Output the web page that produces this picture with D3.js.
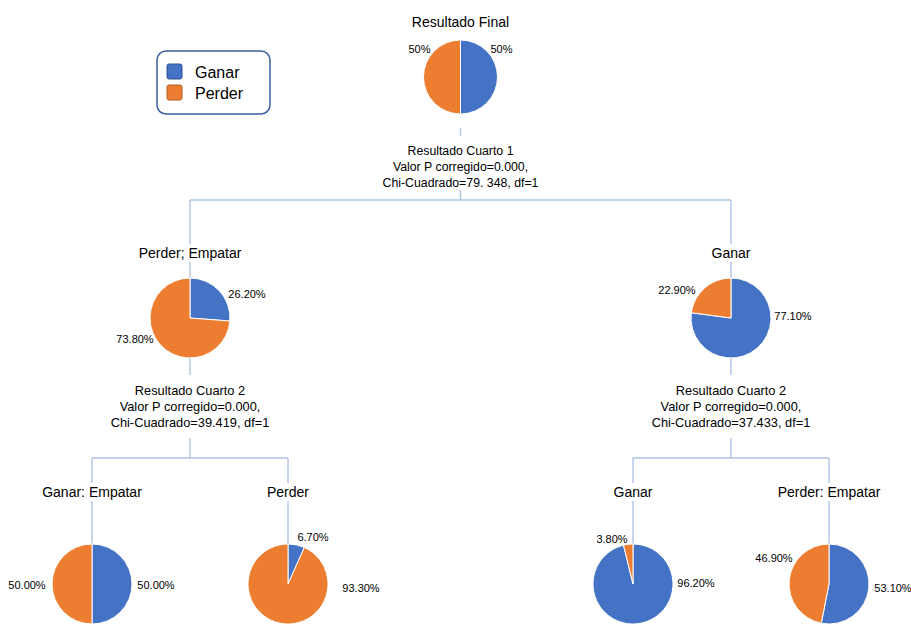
<!DOCTYPE html>
<html><head><meta charset="utf-8">
<script src="https://cdn.jsdelivr.net/npm/d3@7"></script>
<style>
body{margin:0;background:#fff}
svg{display:block;font-family:"Liberation Sans",Arial,Helvetica,sans-serif}
</style>
</head><body><svg id="chart" width="911" height="626"></svg>
<script>
// ---------- DATA ----------
const nodeIds = ["root", "pe", "g", "ge", "p", "g2", "pe2"];
const nodeParents = [null, "root", "root", "pe", "pe", "g", "g"];
const nodeTitles = ["Resultado Final", "Perder; Empatar", "Ganar", "Ganar: Empatar", "Perder", "Ganar", "Perder: Empatar"];
const categories = ["Ganar", "Perder"];
const ganarPct = [50, 26.2, 77.1, 50, 6.7, 96.2, 53.1];
const perderPct = [50, 73.8, 22.9, 50, 93.3, 3.8, 46.9];
const splitNodes = ["root", "pe", "g"];
const splitVariables = ["Resultado Cuarto 1", "Resultado Cuarto 2", "Resultado Cuarto 2"];
const splitPValues = ["0.000", "0.000", "0.000"];
const splitChiSquare = ["79. 348", "39.419", "37.433"];
const splitDf = [1, 1, 1];

// ---------- LAYOUT / STYLE ----------
const W = 911, H = 626;
const colors = ["#4472C4", "#ED7D31"];
const lineColor = "#AFC3E6";
const xRange = [92, 829];
const depthLayout = [
  {titleY: 27, pieY: 77, r: 37, textY: 155, barY: 200, lineStart: 128, fontSize: 12.3, decimals: 0},
  {titleY: 258, pieY: 318, r: 40, textY: 395, barY: 458, lineStart: 358, fontSize: 12.8, decimals: 2},
  {titleY: 497, pieY: 584, r: 40, decimals: 2}
];
// label centre offsets from pie centre: [Ganar, Perder]
const labelOffsets = [
  [[41, -28], [-41, -28]],
  [[57, -24], [-55, 21]],
  [[62, -2], [-54, -28]],
  [[64, 1], [-65, 1]],
  [[25, -47], [73, 4]],
  [[63, -1], [-21, -45]],
  [[64, 4], [-55, -26]]
];
const legendBox = {x: 157, y: 51, w: 113, h: 63};

// ---------- BUILD ----------
const svg = d3.select("#chart");
svg.append("rect").attr("width", W).attr("height", H).attr("fill", "#fff");

const rows = nodeIds.map((id, i) => ({
  id, parent: nodeParents[i], title: nodeTitles[i],
  values: [ganarPct[i], perderPct[i]], idx: i
}));
const root = d3.stratify().id(d => d.id).parentId(d => d.parent)(rows);
d3.tree().nodeSize([1, 1]).separation((a, b) => a.parent === b.parent ? 1 : 1.76)(root);

const nodes = root.descendants();
const x = d3.scaleLinear().domain(d3.extent(nodes, d => d.x)).range(xRange);
nodes.forEach(n => { n.px = x(n.x); n.L = depthLayout[n.depth]; });

const gLines = svg.append("g").attr("stroke", lineColor).attr("stroke-width", 1.4).attr("fill", "none");
const gText = svg.append("g");
const gPies = svg.append("g");
const gLabels = svg.append("g");

// connectors
nodes.forEach(n => {
  if (!n.children) return;
  const L = n.L;
  gLines.append("line").attr("x1", n.px).attr("x2", n.px).attr("y1", L.lineStart).attr("y2", L.barY);
  const xs = n.children.map(c => c.px);
  gLines.append("line").attr("x1", d3.min(xs)).attr("x2", d3.max(xs)).attr("y1", L.barY).attr("y2", L.barY);
  n.children.forEach(c => {
    gLines.append("line").attr("x1", c.px).attr("x2", c.px).attr("y1", L.barY).attr("y2", c.L.pieY - c.L.r + 2);
  });
});

function textWithBg(g, xPos, y, lines, size, padTop, padBottom) {
  const grp = g.append("g");
  const bg = grp.append("rect").attr("fill", "#fff");
  const t = grp.append("text").attr("text-anchor", "middle").attr("font-size", size).attr("fill", "#000");
  lines.forEach((s, i) => {
    t.append("tspan").attr("x", xPos).attr("y", y + i * 16).text(s);
  });
  const bb = t.node().getBBox();
  bg.attr("x", bb.x - 2).attr("y", bb.y - padTop).attr("width", bb.width + 4).attr("height", bb.height + padTop + padBottom);
}

// titles
nodes.forEach(n => {
  textWithBg(gText, n.px, n.L.titleY, [n.data.title], 14, 1, 1);
});

// split texts
splitNodes.forEach((id, i) => {
  const n = nodes.find(d => d.id === id);
  textWithBg(gText, n.px, n.L.textY, [
    splitVariables[i],
    `Valor P corregido=${splitPValues[i]},`,
    `Chi-Cuadrado=${splitChiSquare[i]}, df=${splitDf[i]}`
  ], n.L.fontSize, 8, n.depth === 0 ? 0 : 8);
});

// pies
const pie = d3.pie().sort(null).value(d => d);
nodes.forEach(n => {
  const arc = d3.arc().innerRadius(0).outerRadius(n.L.r);
  const g = gPies.append("g").attr("transform", `translate(${n.px},${n.L.pieY})`);
  g.selectAll("path").data(pie(n.data.values)).join("path")
    .attr("d", arc).attr("fill", (d, i) => colors[i])
    .attr("stroke", "#fff").attr("stroke-width", 1);
  const fmt = d3.format(`.${n.L.decimals}f`);
  n.data.values.forEach((v, i) => {
    const off = labelOffsets[n.data.idx][i];
    gLabels.append("text")
      .attr("x", n.px + off[0]).attr("y", n.L.pieY + off[1])
      .attr("dy", "0.35em").attr("text-anchor", "middle")
      .attr("font-size", 11).attr("fill", "#000")
      .text(fmt(v) + "%");
  });
});

// legend
const lg = svg.append("g");
lg.append("rect").attr("x", legendBox.x).attr("y", legendBox.y).attr("width", legendBox.w).attr("height", legendBox.h)
  .attr("rx", 9).attr("fill", "#fff").attr("stroke", "#3B5FA0").attr("stroke-width", 1.5);
const swStroke = ["#2F528F", "#B25E22"];
categories.forEach((c, i) => {
  lg.append("rect").attr("x", legendBox.x + 10).attr("y", legendBox.y + 13 + i * 21)
    .attr("width", 15).attr("height", 15).attr("rx", 2)
    .attr("fill", colors[i]).attr("stroke", swStroke[i]).attr("stroke-width", 1);
  lg.append("text").attr("x", legendBox.x + 38).attr("y", legendBox.y + 27 + i * 21)
    .attr("font-size", 16).attr("fill", "#000").text(c);
});
</script>
</body></html>
